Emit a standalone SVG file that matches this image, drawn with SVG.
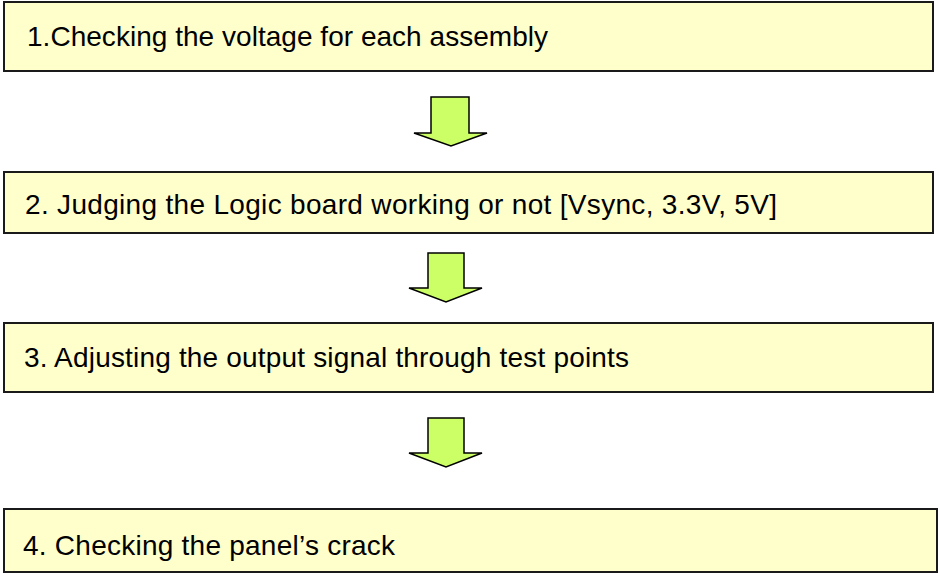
<svg xmlns="http://www.w3.org/2000/svg" width="940" height="580" viewBox="0 0 940 580">
<style>
.box{fill:#FFFFCC;stroke:#1a1a1a;stroke-width:2}
.arr{fill:#CCFF66;stroke:#000;stroke-width:1.5;stroke-linejoin:miter}
.t{font-family:"Liberation Sans",Arial,sans-serif;font-size:28px;fill:#000}
</style>
<rect width="940" height="580" fill="#fff"/>
<g id="node1"><rect class="box" x="4" y="2" width="929" height="69"/><text class="t" x="27" y="46" textLength="521" lengthAdjust="spacing">1.Checking the voltage for each assembly</text></g>
<g id="node2"><rect class="box" x="4" y="172" width="929" height="61"/><text class="t" x="25" y="214" textLength="752" lengthAdjust="spacing">2. Judging the Logic board working or not [Vsync, 3.3V, 5V]</text></g>
<g id="node3"><rect class="box" x="4" y="323" width="929" height="69"/><text class="t" x="24" y="367" textLength="605" lengthAdjust="spacing">3. Adjusting the output signal through test points</text></g>
<g id="node4"><rect class="box" x="4" y="509" width="933" height="63"/><text class="t" x="23" y="555" textLength="372" lengthAdjust="spacing">4. Checking the panel’s crack</text></g>
<g id="connectors">
<polygon class="arr" points="431,97 469,97 469,133 487,133 451,146 414,133 431,133"/>
<polygon class="arr" points="428,253 464,253 464,288 482,288 446,302 409,288 428,288"/>
<polygon class="arr" points="428,418 464,418 464,453 482,453 446,467 409,453 428,453"/>
</g>
</svg>
